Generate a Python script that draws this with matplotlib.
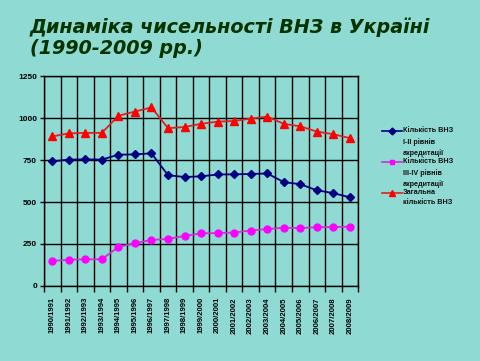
import numpy as np
import matplotlib.pyplot as plt
from matplotlib.lines import Line2D

years = ['1990/1991', '1991/1992', '1992/1993', '1993/1994', '1994/1995',
         '1995/1996', '1996/1997', '1997/1998', '1998/1999', '1999/2000',
         '2000/2001', '2001/2002', '2002/2003', '2003/2004', '2004/2005',
         '2005/2006', '2006/2007', '2007/2008', '2008/2009']
lvl12 = [742, 753, 754, 753, 782, 784, 790, 660, 649, 653, 664, 665, 667, 670, 619, 606, 570, 553, 528]
lvl34 = [149, 156, 158, 159, 232, 255, 274, 280, 298, 313, 315, 318, 330, 339, 347, 345, 350, 351, 353]
total = [891, 909, 912, 912, 1014, 1039, 1064, 940, 947, 966, 979, 983, 997, 1009, 966, 951, 920, 904, 881]

bg = '#8fdbd3'
fig = plt.figure(figsize=(4.81, 3.61), dpi=100, facecolor=bg)
ax = fig.add_axes([0.0915, 0.208, 0.653, 0.581])
ax.set_facecolor(bg)

x = np.arange(len(years))
ax.plot(x, lvl12, color='#000080', marker='D', markersize=4.5, lw=1.3)
ax.plot(x, lvl34, color='#cc33cc', marker='o', markersize=5, mfc='#ff00ff', mec='#ff00ff', lw=1.3)
ax.plot(x, total, color='#e02020', marker='^', markersize=6, mfc='#ff0000', mec='#ff0000', lw=1.3)

ax.set_xlim(-0.5, len(years) - 0.5)
ax.set_ylim(0, 1250)
ax.set_yticks([0, 250, 500, 750, 1000, 1250])
ax.set_yticklabels(['0', '250', '500', '750', '1000', '1250'], fontsize=6, fontweight='bold',
                   family='Liberation Sans')
ax.set_xticks(x)
ax.set_xticklabels(years, rotation=90, fontsize=5.6, fontweight='bold', family='Liberation Sans')
ax.tick_params(axis='x', length=0, pad=8)
ax.set_xticks(np.arange(-0.5, len(years), 1), minor=True)
ax.tick_params(axis='x', which='minor', length=4, width=1, color='black')
ax.tick_params(axis='y', length=3, width=1, pad=2)
ax.grid(True, axis='y', color='black', lw=1)
ax.grid(True, axis='x', which='minor', color='black', lw=1)
for s in ax.spines.values():
    s.set_color('black')
    s.set_linewidth(1)

fig.text(0.062, 0.85, 'Динаміка чисельності ВНЗ в Україні\n(1990-2009 рр.)',
         fontsize=13.8, fontweight='bold', style='italic', color='#003300',
         linespacing=1.12)

# legend
leg = [('#000080', 'D', 3.5, '#000080', 'Кількість ВНЗ\nI-II рівнів\nакредитації', 131),
       ('#cc33cc', 's', 3, '#ff00ff', 'Кількість ВНЗ\nIII-IV рівнів\nакредитації', 162),
       ('#e02020', '^', 4, '#ff0000', 'Загальна\nкількість ВНЗ', 193)]
for c, m, ms, mc, lab, yp in leg:
    yf = 1 - yp / 361
    fig.add_artist(Line2D([382 / 481, 392 / 481, 402 / 481], [yf, yf, yf], color=c, lw=1.2,
                          marker=m, markevery=[1], markersize=ms, mfc=mc, mec=mc,
                          transform=fig.transFigure))
    fig.text(403 / 481, yf + 3.5 / 361, lab, fontsize=5.2, fontweight='bold',
             family='Liberation Sans', va='top', linespacing=1.55, color='#111111')

fig.savefig('out.png', dpi=100, facecolor=bg)
